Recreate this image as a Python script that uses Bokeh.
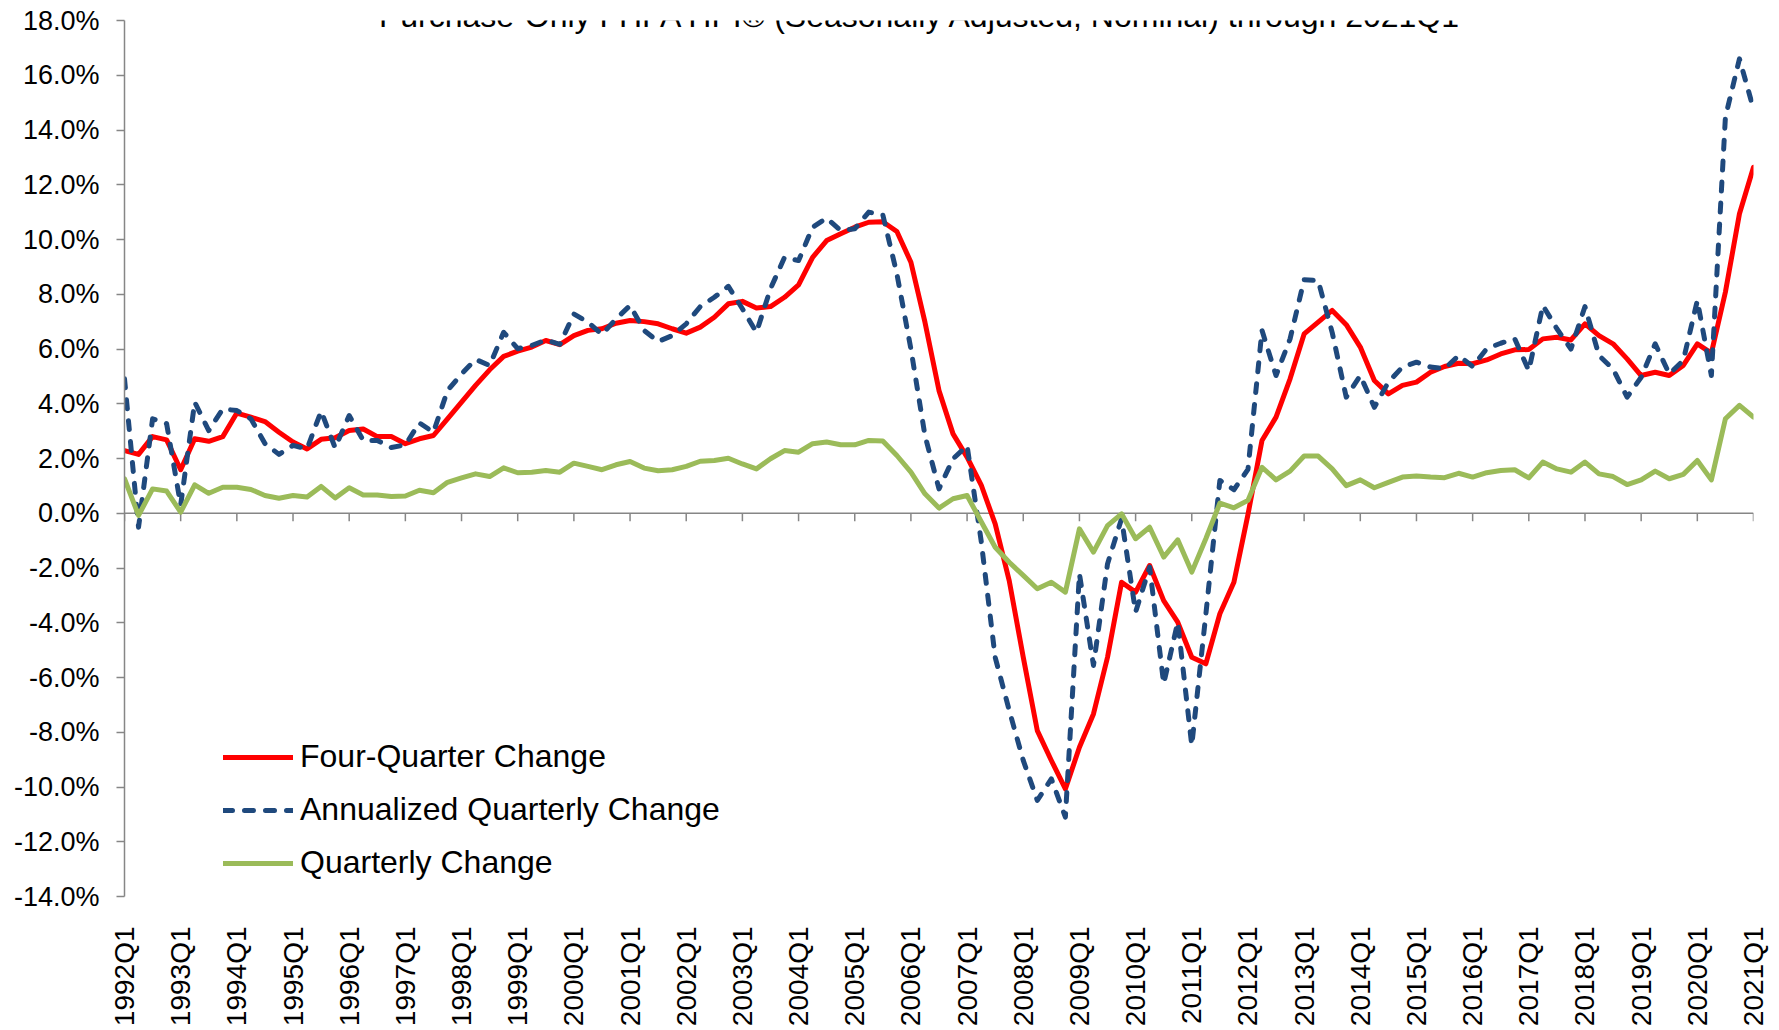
import numpy as np
from bokeh.plotting import figure
from bokeh.models import (Range1d, FixedTicker, PrintfTickFormatter, Span,
                          Legend, LegendItem, Label)
from bokeh.embed import file_html
from bokeh.resources import INLINE

# ---------------- data ----------------
years = list(range(1992, 2022))
quarters = [f"{y}Q{q}" for y in years for q in range(1, 5)][:117]   # 1992Q1 .. 2021Q1
tick_labels = [f"{y}Q1" for y in years]

four_quarter = [
    2.29, 2.15, 2.80, 2.68, 1.59, 2.72, 2.63, 2.80, 3.66, 3.51,
    3.35, 2.96, 2.60, 2.35, 2.70, 2.76, 3.02, 3.08, 2.80, 2.80,
    2.54, 2.72, 2.84, 3.45, 4.06, 4.67, 5.24, 5.73, 5.92, 6.07,
    6.31, 6.16, 6.49, 6.68, 6.74, 6.94, 7.04, 7.00, 6.92, 6.74,
    6.58, 6.80, 7.16, 7.65, 7.74, 7.50, 7.55, 7.89, 8.34, 9.35,
    9.96, 10.21, 10.45, 10.63, 10.65, 10.29, 9.17, 6.98, 4.48, 2.90,
    2.05, 1.04, -0.39, -2.46, -5.26, -7.94, -9.03, -10.07, -8.55, -7.33,
    -5.26, -2.52, -2.88, -1.91, -3.19, -3.98, -5.26, -5.50, -3.67, -2.52,
    -0.05, 2.66, 3.51, 4.91, 6.55, 6.98, 7.41, 6.89, 6.07, 4.85,
    4.36, 4.67, 4.79, 5.15, 5.36, 5.48, 5.46, 5.60, 5.82, 5.97,
    5.98, 6.37, 6.43, 6.33, 6.92, 6.49, 6.19, 5.64, 5.03, 5.15,
    5.03, 5.40, 6.19, 5.85, 8.08, 10.94, 12.64,
]

annualized = [
    4.91, -0.51, 3.45, 3.27, 0.30, 4.06, 3.02, 3.81, 3.75, 3.45,
    2.55, 2.15, 2.48, 2.35, 3.73, 2.39, 3.57, 2.66, 2.66, 2.40,
    2.50, 3.30, 2.96, 4.48, 5.09, 5.62, 5.40, 6.61, 6.01, 6.13,
    6.33, 6.17, 7.28, 6.98, 6.53, 7.10, 7.59, 6.68, 6.27, 6.49,
    6.92, 7.55, 7.89, 8.29, 7.47, 6.61, 8.20, 9.35, 9.23, 10.45,
    10.78, 10.33, 10.39, 11.00, 10.90, 8.75, 6.00, 2.84, 0.89, 1.99,
    2.47, -1.00, -5.26, -7.20, -9.03, -10.49, -9.70, -11.10, -2.21, -5.56,
    -1.85, -0.20, -3.61, -1.97, -6.23, -3.98, -8.48, -3.70, 1.20, 0.86,
    1.60, 6.68, 5.03, 6.37, 8.53, 8.50, 6.60, 4.24, 5.03, 3.87,
    4.79, 5.34, 5.52, 5.34, 5.28, 5.76, 5.36, 6.01, 6.21, 6.37,
    5.21, 7.59, 6.74, 6.00, 7.55, 5.76, 5.27, 4.24, 4.97, 6.19,
    5.09, 5.58, 7.77, 5.03, 14.47, 16.60, 14.77,
]

quarterly = [
    1.26, -0.08, 0.89, 0.81, 0.04, 1.04, 0.73, 0.95, 0.95, 0.87,
    0.65, 0.55, 0.65, 0.59, 0.98, 0.56, 0.93, 0.67, 0.67, 0.61,
    0.63, 0.84, 0.75, 1.13, 1.29, 1.44, 1.34, 1.66, 1.48, 1.50,
    1.56, 1.50, 1.83, 1.71, 1.59, 1.77, 1.89, 1.65, 1.55, 1.59,
    1.71, 1.90, 1.93, 2.01, 1.80, 1.62, 1.99, 2.29, 2.23, 2.54,
    2.60, 2.50, 2.50, 2.66, 2.64, 2.11, 1.50, 0.71, 0.19, 0.53,
    0.65, -0.30, -1.24, -1.79, -2.27, -2.76, -2.52, -2.88, -0.57, -1.42,
    -0.45, -0.02, -0.93, -0.51, -1.60, -0.97, -2.15, -0.93, 0.37, 0.20,
    0.47, 1.68, 1.22, 1.54, 2.09, 2.09, 1.62, 1.01, 1.22, 0.93,
    1.13, 1.32, 1.36, 1.32, 1.30, 1.46, 1.32, 1.48, 1.56, 1.59,
    1.29, 1.87, 1.62, 1.50, 1.87, 1.44, 1.34, 1.05, 1.22, 1.54,
    1.26, 1.42, 1.93, 1.22, 3.45, 3.94, 3.51,
]

y_ticks = list(range(-14, 19, 2))
title_text = "Purchase-Only FHFA HPI\u00ae (Seasonally Adjusted, Nominal) through 2021Q1"
legend_labels = ["Four-Quarter Change", "Annualized Quarterly Change", "Quarterly Change"]

# ---------------- styling ----------------
FONT = "Liberation Sans"
AXIS_COLOR = "#868686"
RED = "#FF0000"
BLUE = "#1F497D"
GREEN = "#9BBB59"

x = list(range(len(quarters)))
tick_pos = [quarters.index(t) for t in tick_labels]

W, H = 1779, 1030
B_LEFT, B_RIGHT, B_TOP, B_BOTTOM = 124, 26, 20, 134
frame_h = H - B_TOP - B_BOTTOM
px = (y_ticks[-1] - y_ticks[0]) / frame_h          # data units per pixel (vertical)

p = figure(width=W, height=H,
           x_range=Range1d(0, len(quarters) - 1),
           y_range=Range1d(y_ticks[0], y_ticks[-1]),
           output_backend="svg", toolbar_location=None,
           min_border_left=B_LEFT, min_border_right=B_RIGHT,
           min_border_top=B_TOP, min_border_bottom=B_BOTTOM)
p.outline_line_color = None
p.grid.visible = False
p.background_fill_color = "white"
p.border_fill_color = "white"

# y axis
ya = p.yaxis[0]
ya.ticker = FixedTicker(ticks=y_ticks)
ya.formatter = PrintfTickFormatter(format="%.1f%%")
ya.major_label_text_font = FONT
ya.major_label_text_font_size = "27px"
ya.major_label_text_color = "black"
ya.axis_line_color = AXIS_COLOR
ya.axis_line_width = 1.5
ya.major_tick_line_color = AXIS_COLOR
ya.major_tick_line_width = 1.5
ya.major_tick_out = 8
ya.major_tick_in = 0
ya.minor_tick_line_color = None
ya.major_label_standoff = 17

# x axis: labels only (the axis line itself crosses at zero, drawn below)
xa = p.xaxis[0]
xa.ticker = FixedTicker(ticks=tick_pos)
xa.major_label_overrides = {tp: lab for tp, lab in zip(tick_pos, tick_labels)}
xa.major_label_orientation = np.pi / 2
xa.major_label_text_font = FONT
xa.major_label_text_font_size = "28px"
xa.major_label_text_color = "black"
xa.axis_line_color = None
xa.major_tick_line_color = None
xa.major_tick_out = 0
xa.major_tick_in = 0
xa.minor_tick_line_color = None
xa.major_label_standoff = 30

# category axis line crossing at zero, with its tick marks hanging below
p.add_layout(Span(location=0, dimension="width", line_color=AXIS_COLOR,
                  line_width=1.5, level="underlay"))
p.segment(x0=tick_pos, y0=[0] * len(tick_pos), x1=tick_pos,
          y1=[-8 * px] * len(tick_pos), line_color=AXIS_COLOR, line_width=1.5)

# series
r1 = p.line(x, four_quarter, line_color=RED, line_width=5,
            line_join="round", line_cap="round")
r2 = p.line(x, annualized, line_color=BLUE, line_width=5, line_dash="9 12",
            line_join="round", line_cap="round")
r3 = p.line(x, quarterly, line_color=GREEN, line_width=5,
            line_join="round", line_cap="round")

legend = Legend(items=[LegendItem(label=legend_labels[0], renderers=[r1]),
                       LegendItem(label=legend_labels[1], renderers=[r2]),
                       LegendItem(label=legend_labels[2], renderers=[r3])],
                location=(99, 15), orientation="vertical",
                glyph_width=70, glyph_height=36, label_height=36,
                label_standoff=7, spacing=16, padding=0, margin=0,
                border_line_color=None, background_fill_alpha=0,
                label_text_font=FONT, label_text_font_size="32px",
                label_text_color="black")
p.add_layout(legend)

# title (partly cut off at the top, as in the original)
p.add_layout(Label(x=56.7, y=y_ticks[-1] + 5 * px,
                   text=title_text, text_align="center", text_baseline="alphabetic",
                   text_font=FONT, text_font_size="32px", text_color="black"))

open("out.html", "w").write(file_html(p, INLINE))
